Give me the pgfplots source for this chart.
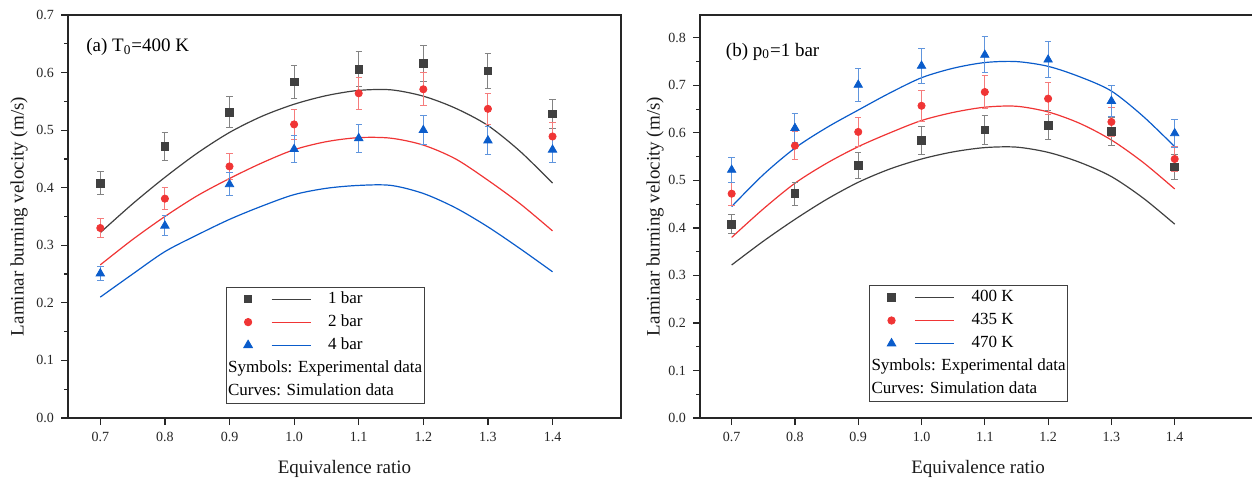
\documentclass[border=0pt]{standalone}
\usepackage{fontspec}
\setmainfont{Liberation Serif}
\usepackage{pgfplots}
\usepackage{pgfplotstable}
\pgfplotsset{compat=1.18}

\definecolor{cK}{HTML}{404040}
\definecolor{cR}{HTML}{F03535}
\definecolor{cB}{HTML}{0A5CCB}

% experimental points: x, value, error
\pgfplotstableread{
x y e
0.7 0.408 0.020
0.8 0.472 0.024
0.9 0.531 0.027
1.0 0.584 0.029
1.1 0.606 0.030
1.2 0.616 0.031
1.3 0.603 0.030
1.4 0.528 0.026
}\expK
\pgfplotstableread{
x y e
0.7 0.330 0.016
0.8 0.381 0.019
0.9 0.437 0.022
1.0 0.510 0.026
1.1 0.564 0.028
1.2 0.571 0.029
1.3 0.537 0.027
1.4 0.489 0.024
}\expBarTwo
\pgfplotstableread{
x y e
0.7 0.251 0.013
0.8 0.334 0.017
0.9 0.406 0.020
1.0 0.467 0.023
1.1 0.486 0.024
1.2 0.500 0.025
1.3 0.482 0.024
1.4 0.466 0.023
}\expBarFour
\pgfplotstableread{
x y e
0.7 0.472 0.024
0.8 0.573 0.029
0.9 0.602 0.030
1.0 0.657 0.033
1.1 0.686 0.034
1.2 0.672 0.034
1.3 0.623 0.031
1.4 0.545 0.027
}\expTfs
\pgfplotstableread{
x y e
0.7 0.522 0.026
0.8 0.610 0.031
0.9 0.701 0.035
1.0 0.741 0.037
1.1 0.764 0.038
1.2 0.754 0.038
1.3 0.667 0.033
1.4 0.599 0.030
}\expTsz

% simulation curves
\pgfplotstableread{
x y
0.70 0.322
0.75 0.372
0.80 0.418
0.85 0.460
0.90 0.496
0.95 0.524
1.00 0.545
1.05 0.560
1.10 0.569
1.15 0.570
1.20 0.559
1.25 0.538
1.30 0.508
1.35 0.463
1.40 0.408
}\simK
\pgfplotstableread{
x y
0.70 0.266
0.75 0.310
0.80 0.350
0.85 0.386
0.90 0.416
0.95 0.443
1.00 0.466
1.05 0.480
1.10 0.487
1.15 0.486
1.20 0.474
1.25 0.450
1.30 0.413
1.35 0.372
1.40 0.325
}\simBarTwo
\pgfplotstableread{
x y
0.70 0.210
0.75 0.250
0.80 0.289
0.85 0.318
0.90 0.345
0.95 0.368
1.00 0.388
1.05 0.399
1.10 0.404
1.15 0.404
1.20 0.390
1.25 0.365
1.30 0.332
1.35 0.294
1.40 0.254
}\simBarFour
\pgfplotstableread{
x y
0.70 0.380
0.75 0.440
0.80 0.494
0.85 0.536
0.90 0.571
0.95 0.600
1.00 0.626
1.05 0.643
1.10 0.654
1.15 0.656
1.20 0.644
1.25 0.620
1.30 0.585
1.35 0.538
1.40 0.482
}\simTfs
\pgfplotstableread{
x y
0.70 0.445
0.75 0.512
0.80 0.568
0.85 0.611
0.90 0.648
0.95 0.684
1.00 0.716
1.05 0.736
1.10 0.748
1.15 0.750
1.20 0.740
1.25 0.718
1.30 0.688
1.35 0.635
1.40 0.571
}\simTsz

\pgfplotsset{
  combo/.style={legend image code/.code={
      \path[draw=none, fill=none] (-10pt,-1pt) rectangle (40pt,1pt);
      \draw[##1] plot coordinates {(0pt,0pt)};
      \draw[##1, mark=none, line width=0.6pt] (11.7pt,0pt) -- (31.3pt,0pt);}},
  panel/.style={
    scale only axis, height=201.5pt, anchor=south west,
    xmin=0.65, ymin=0,
    xtick={0.7,0.8,0.9,1.0,1.1,1.2,1.3,1.4},
    minor y tick num=1,
    axis line style={black!85, line width=0.7pt},
    tick align=outside, tick pos=left,
    major tick length=3.5pt, minor tick length=2pt,
    tick style={black!85, line width=0.6pt},
    tick label style={black!85, font=\fontsize{7}{8}\selectfont},
    /pgf/number format/fixed, /pgf/number format/fixed zerofill,
    /pgf/number format/precision=1, /pgf/number format/assume math mode=true,
    label style={font=\fontsize{9.5}{11}\selectfont, black!90},
    xlabel={Equivalence ratio},
    ylabel={Laminar burning velocity (m/s)},
    xlabel style={at={(axis description cs:0.5,-0.1266)}, anchor=center},
    legend cell align=left,
    legend style={draw=black!75, line width=0.5pt, inner xsep=1pt, inner ysep=2pt,
      row sep=3.5pt, font=\fontsize{8.5}{10}\selectfont, anchor=north west,
      cells={anchor=west}, nodes={inner sep=0pt, text height=6pt, text depth=2pt}},
  },
  expt/.style={only marks, forget plot, color=#1,
    error bars/y dir=both, error bars/y explicit,
    error bars/error bar style={#1!65, line width=0.5pt},
    error bars/error mark options={rotate=90, mark size=1.6pt, #1!65, line width=0.5pt}},
  sim/.style={forget plot, no marks, color=#1, line width=0.6pt, smooth},
  mk/.style={mark=square*, mark size=1.9pt},
  mr/.style={mark=*, mark size=1.8pt},
  mb/.style={mark=triangle*, mark size=2.4pt},
}

\begin{document}
\begin{tikzpicture}
\path[use as bounding box] (0,0) rectangle (626pt,241.5pt);

\begin{axis}[panel, at={(34pt,32.5pt)}, width=276.5pt, xmax=1.506, ymax=0.7,
  ytick={0,0.1,0.2,0.3,0.4,0.5,0.6,0.7},
  ylabel style={at={(axis description cs:-0.0886,0.5)}, anchor=center},
  legend style={at={(0.285,0.326)}}]
  \addplot[sim=cK] table[x=x,y=y] {\simK};
  \addplot[sim=cR] table[x=x,y=y] {\simBarTwo};
  \addplot[sim=cB] table[x=x,y=y] {\simBarFour};
  \addplot[expt=cK, mk] table[x=x,y=y,y error=e] {\expK};
  \addplot[expt=cR, mr] table[x=x,y=y,y error=e] {\expBarTwo};
  \addplot[expt=cB, mb] table[x=x,y=y,y error=e] {\expBarFour};
  \addlegendimage{combo, cK, mk}
  \addlegendentry{1 bar}
  \addlegendimage{combo, cR, mr}
  \addlegendentry{2 bar}
  \addlegendimage{combo, cB, mb}
  \addlegendentry{4 bar}
  \addlegendimage{empty legend}
  \addlegendentry{\hspace*{-50pt}Symbols: Experimental data}
  \addlegendimage{empty legend}
  \addlegendentry{\hspace*{-50pt}Curves: Simulation data}
  \node[anchor=west, font=\fontsize{9.5}{11}\selectfont, inner sep=0pt]
    at (rel axis cs:0.0325,0.921) {(a) T\textsubscript{0}=400 K};
\end{axis}

\begin{axis}[panel, at={(350pt,32.5pt)}, width=278pt, xmax=1.5285, ymax=0.848,
  ytick={0,0.1,0.2,0.3,0.4,0.5,0.6,0.7,0.8},
  ylabel style={at={(axis description cs:-0.081,0.5)}, anchor=center},
  legend style={at={(0.304,0.330)}}]
  \addplot[sim=cK] table[x=x,y=y] {\simK};
  \addplot[sim=cR] table[x=x,y=y] {\simTfs};
  \addplot[sim=cB] table[x=x,y=y] {\simTsz};
  \addplot[expt=cK, mk] table[x=x,y=y,y error=e] {\expK};
  \addplot[expt=cR, mr] table[x=x,y=y,y error=e] {\expTfs};
  \addplot[expt=cB, mb] table[x=x,y=y,y error=e] {\expTsz};
  \addlegendimage{combo, cK, mk}
  \addlegendentry{400 K}
  \addlegendimage{combo, cR, mr}
  \addlegendentry{435 K}
  \addlegendimage{combo, cB, mb}
  \addlegendentry{470 K}
  \addlegendimage{empty legend}
  \addlegendentry{\hspace*{-50pt}Symbols: Experimental data}
  \addlegendimage{empty legend}
  \addlegendentry{\hspace*{-50pt}Curves: Simulation data}
  \node[anchor=west, font=\fontsize{9.5}{11}\selectfont, inner sep=0pt]
    at (rel axis cs:0.046,0.909) {(b) p\textsubscript{0}=1 bar};
\end{axis}
\end{tikzpicture}
\end{document}
